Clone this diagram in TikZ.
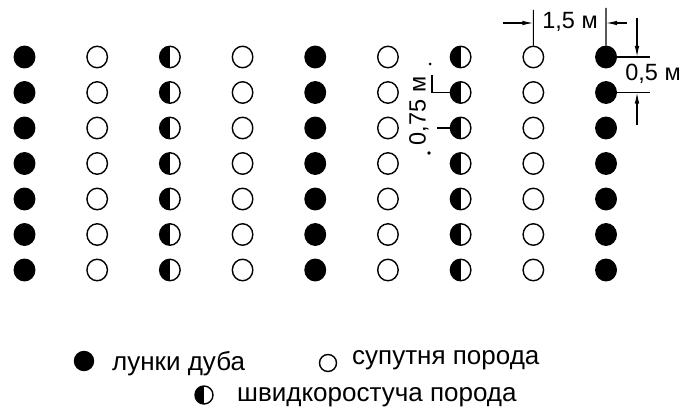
\documentclass[tikz,border=0pt]{standalone}
\usepackage{fontspec}
\setmainfont{Liberation Sans}
\usetikzlibrary{shapes.geometric,arrows.meta}
\begin{document}
\begin{tikzpicture}[x=1pt,y=-1pt,
  hole/.style={ellipse,inner sep=0pt,minimum width=20.5pt,minimum height=21.5pt,line width=1.4pt,draw=black},
  oak/.style={hole,fill=black},
  comp/.style={hole,fill=white},
  fast/.style={hole,fill=white,path picture={\fill[black] (path picture bounding box.south west) rectangle (path picture bounding box.north);}},
  dim/.style={line width=1.1pt},
  dimarrow/.style={line width=1.1pt,-{Latex[length=11pt,width=4.5pt]}},
  lbl/.style={font=\fontsize{23.5}{26}\selectfont,inner sep=0pt},
  leg/.style={font=\fontsize{26}{30}\selectfont,inner sep=0pt,anchor=base west}
]
\fill[white] (0,0) rectangle (684,412);
\useasboundingbox (0,0) rectangle (684,412);
% grid of holes
\foreach \c/\t in {1/oak,2/comp,3/fast,4/comp,5/oak,6/comp,7/fast,8/comp,9/oak}{
  \foreach \r in {1,...,7}{
    \node[\t] (r\r-\c) at ({24.5+72.69*(\c-1)},{57+35.5*(\r-1)}) {};
  }
}
% 1,5 m dimension
\coordinate (t8) at (533.3,10);
\coordinate (t9) at (606,8);
\draw[dim] (r1-8.north) -- (t8);
\draw[dim] (r1-9.north) -- (t9);
\coordinate (a1) at (503,23);
\coordinate (a2) at (627,23);
\draw[dimarrow] (a1) -- (a1 -| t8);
\draw[dimarrow] (a2) -- (a2 -| t9);
\node[lbl] (l15) at (570,22) {1,5 м};
% 0,5 m dimension
\coordinate (h1) at (650,57);
\coordinate (h2) at (650,92.5);
\draw[dim] (r1-9.east) -- (h1);
\draw[dim] (r2-9.east) -- (h2);
\coordinate (v1) at (637,18);
\coordinate (v2) at (637,125);
\draw[dimarrow] (v1) -- (v1 |- h1);
\draw[dimarrow] (v2) -- (v2 |- h2);
\node[lbl] (l05) at (653,74) {0,5 м};
% 0,75 m dimension
\coordinate (s1) at (432,75);
\coordinate (s2) at (437,128);
\draw[dim] (r2-7.west) -| (s1);
\draw[dim] (r3-7.west) -- (s2);
\fill (430,64) circle[radius=1.5pt];
\fill (429,153) circle[radius=1.8pt];
\node[lbl,rotate=90] (l075) at (419,111) {0,75 м};
% legend
\node[oak,minimum width=19pt,minimum height=19pt] (k1) at (84,361) {};
\node[leg] (k1t) at (112,370) {лунки дуба};
\node[comp,minimum width=17pt,minimum height=17pt] (k2) at (328,363) {};
\node[leg] (k2t) at (352,364) {супутня порода};
\node[fast,minimum width=18pt,minimum height=18pt] (k3) at (204,395) {};
\node[leg] (k3t) at (237,401) {швидкоростуча порода};
\end{tikzpicture}
\end{document}
